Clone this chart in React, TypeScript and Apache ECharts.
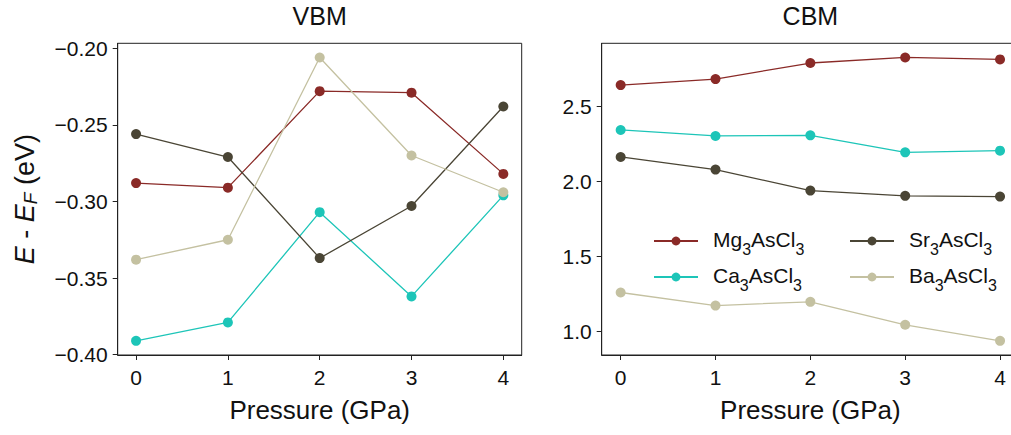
import React, { useEffect, useRef } from "react";
import * as echarts from "echarts";

const FONT = '"Liberation Sans", Arial, Helvetica, sans-serif';
const TEXT = "#111111";
const AXIS = "#222222";

const pressure = [0, 1, 2, 3, 4];

const seriesNames = ["Mg3AsCl3", "Ca3AsCl3", "Sr3AsCl3", "Ba3AsCl3"];
const seriesColors = ["#8a2a27", "#1dc5b8", "#4a4535", "#c4c1a1"];

const vbmMg = [-0.288, -0.291, -0.228, -0.229, -0.282];
const vbmCa = [-0.391, -0.379, -0.307, -0.362, -0.296];
const vbmSr = [-0.256, -0.271, -0.337, -0.303, -0.238];
const vbmBa = [-0.338, -0.325, -0.206, -0.27, -0.294];

const cbmMg = [2.642, 2.682, 2.789, 2.826, 2.813];
const cbmCa = [2.343, 2.303, 2.307, 2.194, 2.205];
const cbmSr = [2.163, 2.079, 1.939, 1.904, 1.899];
const cbmBa = [1.26, 1.173, 1.198, 1.045, 0.938];

const vbmTicks = [-0.4, -0.35, -0.3, -0.25, -0.2];
const cbmTicks = [1.0, 1.5, 2.0, 2.5];

const vbmSeries = [vbmMg, vbmCa, vbmSr, vbmBa];
const cbmSeries = [cbmMg, cbmCa, cbmSr, cbmBa];

function padded(values: number[]) {
  const lo = Math.min(...values);
  const hi = Math.max(...values);
  const m = (hi - lo) * 0.05;
  return [lo - m, hi + m];
}

const richName = (name: string) =>
  name
    .split(/(\d)/)
    .filter((s) => s.length > 0)
    .map((s) => (/\d/.test(s) ? `{s|${s}}` : `{m|${s}}`))
    .join("");

export default function App() {
  const ref = useRef<HTMLDivElement>(null);

  useEffect(() => {
    if (!ref.current) return;
    const chart = echarts.init(ref.current, null, { renderer: "svg" });

    const [xMin, xMax] = padded(pressure);
    const [vMin, vMax] = padded(vbmSeries.flat());
    const [cMin, cMax] = padded(cbmSeries.flat());

    const grids = [
      { left: 117.7, top: 43.3, width: 404, height: 311.7 },
      { left: 601.7, top: 43.3, width: 417.3, height: 311.7 },
    ].map((g) => ({
      ...g,
      show: true,
      borderColor: AXIS,
      borderWidth: 1,
      backgroundColor: "transparent",
      containLabel: false,
    }));

    const xAxis = [0, 1].map((gi) => ({
      type: "value",
      gridIndex: gi,
      min: xMin,
      max: xMax,
      name: "Pressure (GPa)",
      nameLocation: "middle",
      nameGap: 42,
      nameTextStyle: { fontSize: 26, color: TEXT, fontFamily: FONT },
      axisLine: { show: true, onZero: false, lineStyle: { color: AXIS, width: 1 } },
      axisTick: {
        show: true,
        inside: false,
        length: 5,
        customValues: pressure,
        lineStyle: { color: AXIS, width: 1 },
      },
      axisLabel: {
        customValues: pressure,
        margin: 12,
        fontSize: 21,
        color: TEXT,
        fontFamily: FONT,
        formatter: (v: number) => String(v),
      },
      splitLine: { show: false },
    }));

    const yAxis = [
      {
        type: "value",
        gridIndex: 0,
        min: vMin,
        max: vMax,
        name: "{i|E} - {i|E}{s|F} (eV)",
        nameLocation: "middle",
        nameGap: 78,
        nameTextStyle: {
          fontSize: 27,
          color: TEXT,
          fontFamily: FONT,
          lineHeight: 30,
          rich: {
            i: { fontSize: 27, fontStyle: "italic", color: TEXT, fontFamily: FONT, lineHeight: 30 },
            s: {
              fontSize: 19,
              fontStyle: "italic",
              color: TEXT,
              fontFamily: FONT,
              lineHeight: 12,
              verticalAlign: "bottom",
            },
          },
        },
        axisLine: { show: true, onZero: false, lineStyle: { color: AXIS, width: 1 } },
        axisTick: {
          show: true,
          inside: false,
          length: 5,
          customValues: vbmTicks,
          lineStyle: { color: AXIS, width: 1 },
        },
        axisLabel: {
          customValues: vbmTicks,
          margin: 10,
          fontSize: 21,
          color: TEXT,
          fontFamily: FONT,
          formatter: (v: number) => (v < 0 ? "\u2212" : "") + Math.abs(v).toFixed(2),
        },
        splitLine: { show: false },
      },
      {
        type: "value",
        gridIndex: 1,
        min: cMin,
        max: cMax,
        axisLine: { show: true, onZero: false, lineStyle: { color: AXIS, width: 1 } },
        axisTick: {
          show: true,
          inside: false,
          length: 5,
          customValues: cbmTicks,
          lineStyle: { color: AXIS, width: 1 },
        },
        axisLabel: {
          customValues: cbmTicks,
          margin: 10,
          fontSize: 21,
          color: TEXT,
          fontFamily: FONT,
          formatter: (v: number) => v.toFixed(1),
        },
        splitLine: { show: false },
      },
    ];

    const makeSeries = (sets: number[][], gi: number) =>
      sets.map((vals, k) => ({
        type: "line",
        name: seriesNames[k],
        xAxisIndex: gi,
        yAxisIndex: gi,
        data: pressure.map((p, i) => [p, vals[i]]),
        symbol: "circle",
        symbolSize: 10,
        lineStyle: { width: 1.3, color: seriesColors[k] },
        itemStyle: { color: seriesColors[k] },
        emphasis: { disabled: true },
      }));

    const legendText = {
      fontSize: 21,
      color: TEXT,
      fontFamily: FONT,
      lineHeight: 26,
      padding: [0, 0, 0, 10],
      rich: {
        m: { fontSize: 21, color: TEXT, fontFamily: FONT, lineHeight: 24, verticalAlign: "top" },
        s: {
          fontSize: 16,
          color: TEXT,
          fontFamily: FONT,
          lineHeight: 14,
          verticalAlign: "top",
          padding: [12, 0, 0, 0],
        },
      },
    };

    const legendBase = {
      orient: "vertical",
      top: 229,
      itemWidth: 44,
      itemHeight: 11,
      itemGap: 8,
      padding: 0,
      selectedMode: false,
      formatter: richName,
      textStyle: legendText,
    };

    chart.setOption({
      animation: false,
      backgroundColor: "#ffffff",
      title: [
        {
          text: "VBM",
          left: 319.7,
          top: 3,
          textAlign: "center",
          padding: 0,
          textStyle: { fontSize: 25, fontWeight: "normal", color: TEXT, fontFamily: FONT },
        },
        {
          text: "CBM",
          left: 810.4,
          top: 3,
          textAlign: "center",
          padding: 0,
          textStyle: { fontSize: 25, fontWeight: "normal", color: TEXT, fontFamily: FONT },
        },
      ],
      legend: [
        { ...legendBase, left: 653, data: [seriesNames[0], seriesNames[1]] },
        { ...legendBase, left: 849, data: [seriesNames[2], seriesNames[3]] },
      ],
      grid: grids,
      xAxis,
      yAxis,
      series: [...makeSeries(vbmSeries, 0), ...makeSeries(cbmSeries, 1)],
    });

    return () => chart.dispose();
  }, []);

  return (
    <div
      style={{ position: "absolute", left: 0, top: 0, width: 1011, height: 435, overflow: "hidden", background: "#fff" }}
    >
      <div ref={ref} style={{ width: 1032, height: 435 }} />
    </div>
  );
}
